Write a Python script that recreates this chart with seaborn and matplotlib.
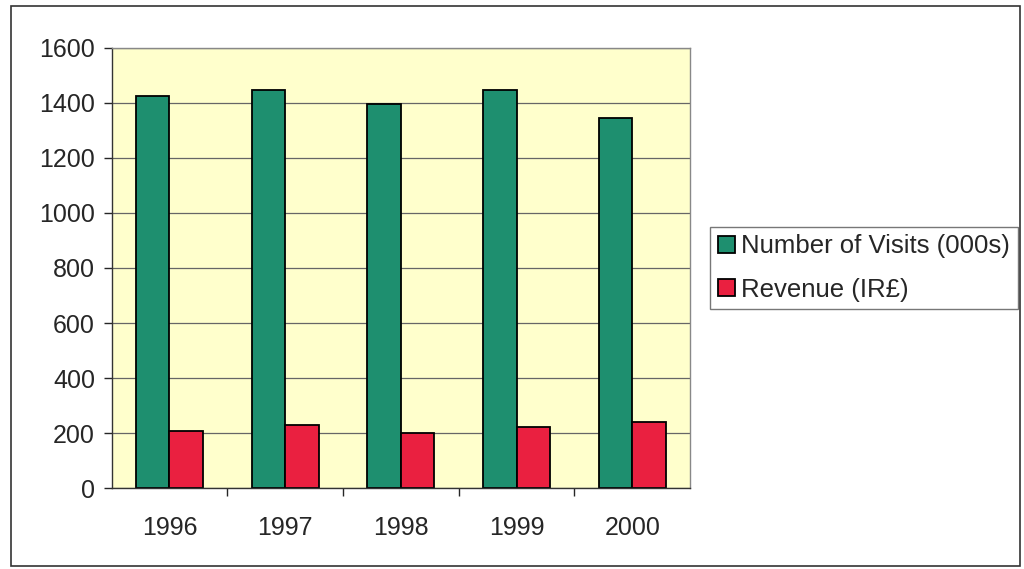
import pandas as pd
import seaborn as sns
import matplotlib.pyplot as plt
from matplotlib.patches import Rectangle

# Datos
years = ['1996', '1997', '1998', '1999', '2000']
visits = [1426, 1447, 1396, 1445, 1344]
revenue = [208, 229, 201, 222, 241]
series_names = ['Number of Visits (000s)', 'Revenue (IR£)']

df = pd.DataFrame({
    'year': years * 2,
    'value': visits + revenue,
    'serie': [series_names[0]] * len(years) + [series_names[1]] * len(years),
})

sns.set_style('white')
plt.rcParams['font.family'] = ['Liberation Sans', 'DejaVu Sans']

fig = plt.figure(figsize=(10.24, 5.69), dpi=100)
ax = fig.add_axes([0.109, 0.142, 0.565, 0.774])
ax.set_facecolor('#ffffcc')

sns.barplot(x='year', y='value', hue='serie', data=df, ax=ax,
            palette=['#1e8f6f', '#ea2040'], width=0.58,
            edgecolor='black', linewidth=1.3, saturation=1)

ax.set_ylim(0, 1600)
ax.set_yticks(range(0, 1601, 200))
ax.set_xlim(-0.5, 4.5)
ax.yaxis.grid(True, color='#666666', linewidth=0.9)
ax.set_axisbelow(True)
ax.set_xlabel('')
ax.set_ylabel('')

# ticks en los límites de cada categoría
ax.set_xticks([0, 1, 2, 3, 4])
ax.set_xticklabels(years)
ax.set_xticks([0.5, 1.5, 2.5, 3.5], minor=True)
ax.tick_params(axis='x', which='major', length=0, labelsize=18, pad=20)
ax.tick_params(axis='x', which='minor', length=6, width=1, direction='out', bottom=True)
ax.tick_params(axis='y', length=6, width=1, direction='out', left=True, labelsize=18, pad=6)

for side in ['left', 'bottom']:
    ax.spines[side].set_color('#333333')
    ax.spines[side].set_linewidth(1)
for side in ['top', 'right']:
    ax.spines[side].set_color('#888888')
    ax.spines[side].set_linewidth(1)

leg = ax.legend(loc='center left', bbox_to_anchor=(1.035, 0.5), borderaxespad=0,
                fontsize=18.5, frameon=True, fancybox=False, edgecolor='#555555',
                handlelength=0.65, handleheight=0.65, handletextpad=0.25,
                borderpad=0.3, labelspacing=0.75)
leg.get_frame().set_linewidth(1)

# marco exterior
fig.patches.append(Rectangle((0.011, 0.006), 0.985, 0.984, transform=fig.transFigure,
                             fill=False, edgecolor='#333333', linewidth=1.2))

fig.savefig('out.png', dpi=100)
